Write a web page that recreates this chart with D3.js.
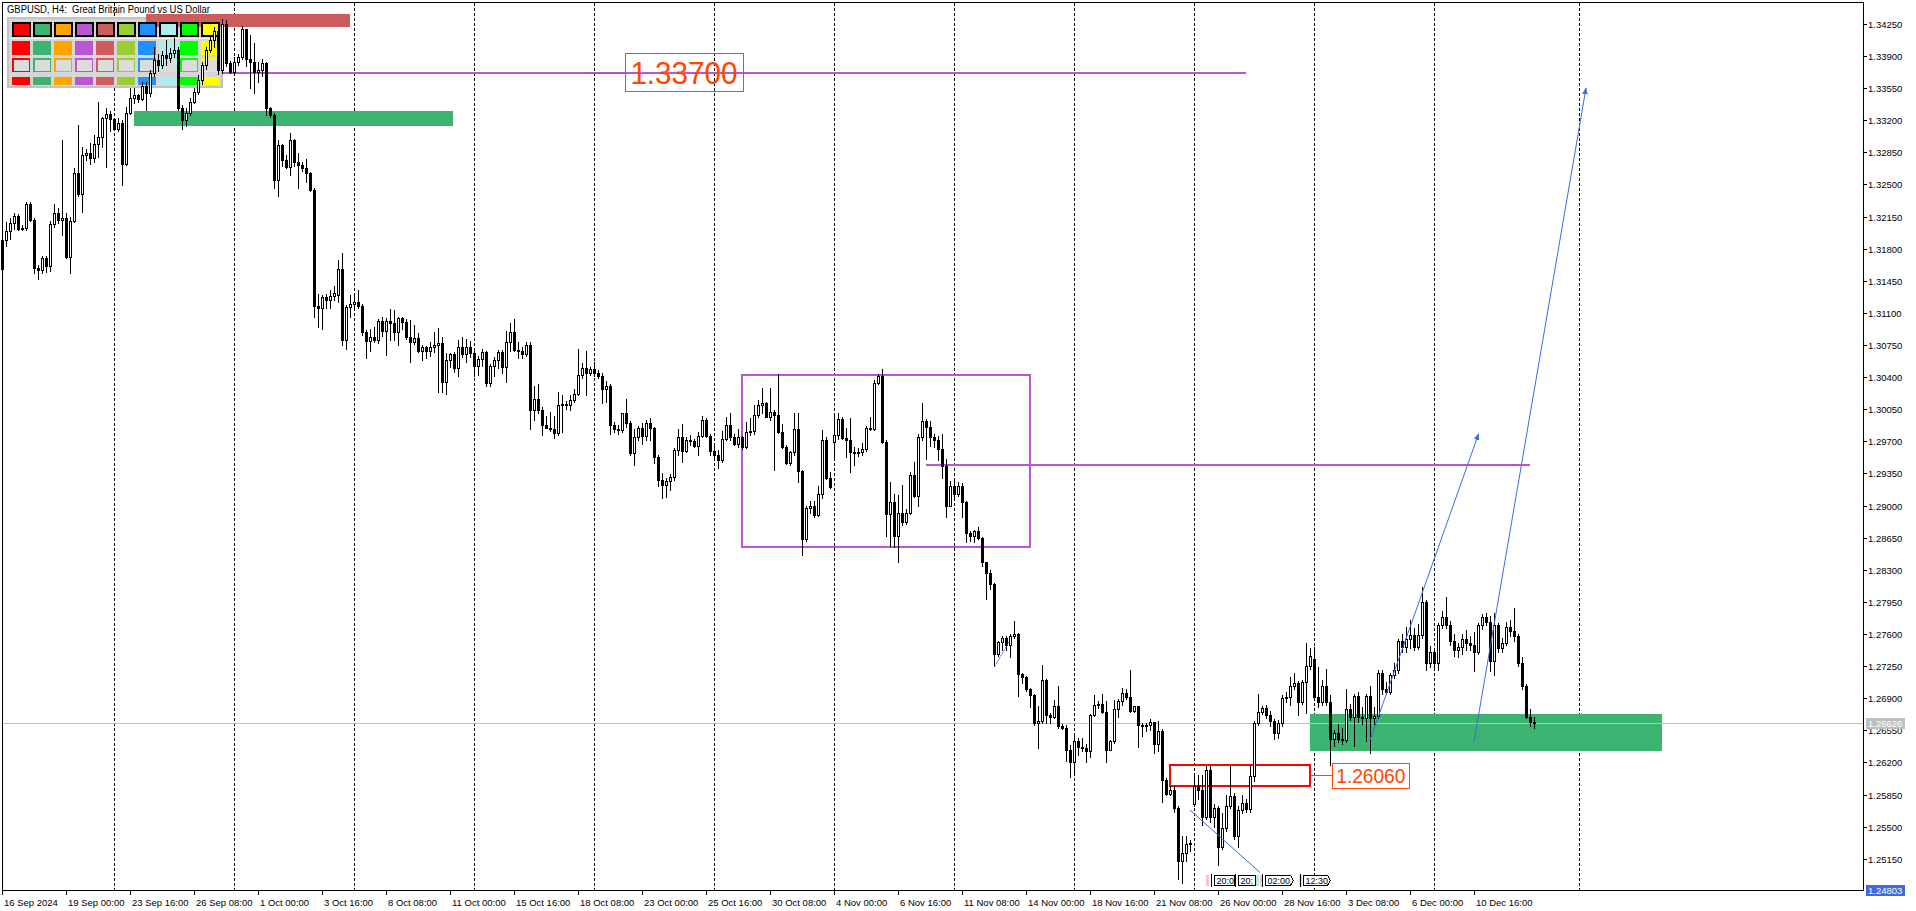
<!DOCTYPE html>
<html><head><meta charset="utf-8">
<script src="https://cdn.jsdelivr.net/npm/d3@7"></script>
<style>html,body{margin:0;padding:0;background:#fff;overflow:hidden}svg{display:block}</style>
</head><body>
<svg id="c" width="1916" height="911"></svg>
<script>
const openP = [
1.3158,1.3190,1.3199,1.3208,1.3216,1.3202,1.3203,1.3229,1.3211,1.3159,
1.3157,1.3170,1.3161,1.3207,1.3219,1.3211,1.3213,1.3171,1.3210,1.3263,
1.3240,1.3282,1.3284,1.3279,1.3294,1.3302,1.3322,1.3327,1.3321,1.3311,
1.3317,1.3272,1.3328,1.3344,1.3348,1.3343,1.3357,1.3350,1.3372,1.3386,
1.3380,1.3391,1.3388,1.3393,1.3397,1.3333,1.3320,1.3328,1.3340,1.3351,
1.3364,1.3380,1.3397,1.3408,1.3417,1.3375,1.3425,1.3382,1.3373,1.3384,
1.3389,1.3419,1.3387,1.3383,1.3373,1.3375,1.3382,1.3333,1.3326,1.3255,
1.3293,1.3277,1.3269,1.3298,1.3274,1.3271,1.3268,1.3262,1.3244,1.3117,
1.3115,1.3127,1.3124,1.3128,1.3130,1.3158,1.3080,1.3116,1.3120,1.3122,
1.3118,1.3089,1.3079,1.3084,1.3081,1.3101,1.3090,1.3101,1.3099,1.3089,
1.3105,1.3100,1.3084,1.3078,1.3083,1.3069,1.3073,1.3069,1.3073,1.3075,
1.3077,1.3035,1.3059,1.3065,1.3050,1.3073,1.3065,1.3073,1.3066,1.3052,
1.3060,1.3067,1.3034,1.3052,1.3059,1.3067,1.3051,1.3078,1.3089,1.3070,
1.3069,1.3065,1.3075,1.3004,1.3016,1.3004,1.2988,1.2985,1.2983,1.2979,
1.3010,1.3011,1.3010,1.3015,1.3022,1.3042,1.3050,1.3044,1.3049,1.3044,
1.3041,1.3027,1.3030,1.2988,1.2983,1.2982,1.3001,1.2990,1.2957,1.2975,
1.2985,1.2976,1.2990,1.2984,1.2953,1.2928,1.2922,1.2927,1.2931,1.2961,
1.2975,1.2960,1.2972,1.2970,1.2965,1.2976,1.2993,1.2976,1.2959,1.2955,
1.2950,1.2973,1.2988,1.2975,1.2967,1.2975,1.2964,1.2980,1.2981,1.2999,
1.3010,1.3012,1.2997,1.3002,1.2999,1.2980,1.2964,1.2946,1.2958,1.2983,
1.2938,1.2863,1.2897,1.2900,1.2890,1.2913,1.2971,1.2930,1.2969,1.2977,
1.2994,1.2974,1.2971,1.2958,1.2957,1.2958,1.2962,1.2985,1.2983,1.3034,
1.3041,1.2969,1.2891,1.2904,1.2867,1.2892,1.2882,1.2892,1.2933,1.2910,
1.2975,1.2992,1.2986,1.2975,1.2971,1.2962,1.2943,1.2899,1.2921,1.2913,
1.2921,1.2904,1.2870,1.2867,1.2872,1.2865,1.2838,1.2827,1.2815,1.2738,
1.2751,1.2756,1.2748,1.2758,1.2760,1.2716,1.2713,1.2700,1.2694,1.2663,
1.2665,1.2710,1.2672,1.2670,1.2682,1.2660,1.2657,1.2634,1.2620,1.2643,
1.2637,1.2636,1.2632,1.2672,1.2683,1.2684,1.2675,1.2634,1.2643,1.2678,
1.2687,1.2696,1.2691,1.2676,1.2681,1.2661,1.2660,1.2661,1.2664,1.2640,
1.2654,1.2601,1.2586,1.2590,1.2570,1.2512,1.2521,1.2531,1.2575,1.2594,
1.2590,1.2560,1.2612,1.2560,1.2570,1.2528,1.2548,1.2572,1.2583,1.2540,
1.2568,1.2576,1.2569,1.2605,1.2663,1.2675,1.2679,1.2672,1.2665,1.2652,
1.2663,1.2690,1.2691,1.2703,1.2707,1.2686,1.2708,1.2725,1.2733,1.2691,
1.2686,1.2703,1.2686,1.2645,1.2652,1.2645,1.2644,1.2678,1.2670,1.2692,
1.2670,1.2668,1.2692,1.2668,1.2671,1.2717,1.2700,1.2697,1.2715,1.2721,
1.2752,1.2746,1.2755,1.2759,1.2746,1.2759,1.2795,1.2728,1.2740,1.2728,
1.2770,1.2779,1.2770,1.2752,1.2742,1.2746,1.2755,1.2750,1.2748,1.2740,
1.2770,1.2778,1.2773,1.2730,1.2770,1.2745,1.2750,1.2768,1.2763,1.2758,
1.2728,1.2703,1.2670,1.2664];
const highP = [
1.3193,1.3209,1.3213,1.3219,1.3218,1.3206,1.3231,1.3231,1.3213,1.3162,
1.3172,1.3172,1.3210,1.3229,1.3224,1.3299,1.3219,1.3215,1.3268,1.3315,
1.3291,1.3289,1.3295,1.3304,1.3340,1.3324,1.3333,1.3330,1.3322,1.3322,
1.3320,1.3335,1.3355,1.3355,1.3349,1.3362,1.3362,1.3375,1.3400,1.3392,
1.3396,1.3407,1.3399,1.3410,1.3400,1.3337,1.3333,1.3344,1.3355,1.3369,
1.3384,1.3400,1.3412,1.3422,1.3425,1.3430,1.3429,1.3385,1.3389,1.3392,
1.3423,1.3420,1.3413,1.3404,1.3384,1.3387,1.3383,1.3334,1.3328,1.3299,
1.3294,1.3282,1.3306,1.3300,1.3284,1.3275,1.3278,1.3264,1.3246,1.3131,
1.3130,1.3131,1.3135,1.3139,1.3168,1.3175,1.3119,1.3129,1.3130,1.3135,
1.3120,1.3091,1.3093,1.3095,1.3103,1.3106,1.3104,1.3114,1.3113,1.3106,
1.3106,1.3103,1.3102,1.3097,1.3088,1.3075,1.3074,1.3078,1.3089,1.3094,
1.3084,1.3066,1.3066,1.3067,1.3081,1.3084,1.3082,1.3079,1.3068,1.3063,
1.3071,1.3069,1.3054,1.3062,1.3070,1.3070,1.3090,1.3099,1.3103,1.3078,
1.3073,1.3078,1.3078,1.3030,1.3033,1.3007,1.2998,1.3002,1.2998,1.3024,
1.3020,1.3014,1.3020,1.3027,1.3071,1.3055,1.3068,1.3051,1.3057,1.3048,
1.3045,1.3036,1.3033,1.2991,1.2988,1.3001,1.3016,1.2992,1.2983,1.2987,
1.2990,1.2993,1.2995,1.2986,1.2955,1.2935,1.2930,1.2934,1.2963,1.2983,
1.2989,1.2975,1.2977,1.2973,1.2980,1.2998,1.2995,1.2978,1.2966,1.2961,
1.2981,1.2997,1.3001,1.2978,1.2983,1.2976,1.2991,1.2995,1.3010,1.3015,
1.3028,1.3013,1.3028,1.3004,1.3043,1.2989,1.2966,1.2960,1.3001,1.3001,
1.2939,1.2900,1.2905,1.2905,1.2921,1.2982,1.2975,1.2937,1.3001,1.3001,
1.2997,1.2984,1.2995,1.2964,1.2963,1.2968,1.2987,1.2997,1.3037,1.3043,
1.3049,1.2972,1.2926,1.2913,1.2912,1.2922,1.2896,1.2937,1.2948,1.2978,
1.3012,1.2994,1.2992,1.2978,1.2976,1.2978,1.2951,1.2927,1.2927,1.2926,
1.2925,1.2905,1.2872,1.2873,1.2877,1.2866,1.2839,1.2830,1.2816,1.2752,
1.2758,1.2758,1.2760,1.2774,1.2761,1.2718,1.2714,1.2701,1.2695,1.2682,
1.2726,1.2711,1.2674,1.2688,1.2703,1.2662,1.2661,1.2639,1.2651,1.2647,
1.2647,1.2640,1.2673,1.2694,1.2687,1.2695,1.2687,1.2644,1.2688,1.2689,
1.2701,1.2700,1.2721,1.2682,1.2682,1.2663,1.2663,1.2667,1.2664,1.2665,
1.2656,1.2603,1.2594,1.2594,1.2572,1.2540,1.2540,1.2535,1.2607,1.2606,
1.2606,1.2616,1.2616,1.2575,1.2572,1.2565,1.2584,1.2616,1.2587,1.2572,
1.2585,1.2580,1.2617,1.2665,1.2695,1.2682,1.2683,1.2676,1.2667,1.2666,
1.2693,1.2697,1.2713,1.2717,1.2709,1.2710,1.2750,1.2745,1.2746,1.2724,
1.2710,1.2722,1.2693,1.2655,1.2662,1.2657,1.2700,1.2684,1.2695,1.2697,
1.2680,1.2695,1.2703,1.2680,1.2721,1.2721,1.2708,1.2717,1.2728,1.2754,
1.2760,1.2768,1.2775,1.2766,1.2771,1.2811,1.2797,1.2747,1.2745,1.2772,
1.2785,1.2800,1.2774,1.2760,1.2750,1.2760,1.2764,1.2758,1.2762,1.2772,
1.2782,1.2783,1.2780,1.2783,1.2772,1.2756,1.2773,1.2775,1.2788,1.2760,
1.2735,1.2705,1.2678,1.2670];
const lowP = [
1.3154,1.3183,1.3191,1.3201,1.3200,1.3200,1.3200,1.3210,1.3153,1.3147,
1.3153,1.3155,1.3156,1.3204,1.3208,1.3195,1.3170,1.3154,1.3209,1.3237,
1.3220,1.3277,1.3272,1.3274,1.3280,1.3291,1.3269,1.3308,1.3310,1.3308,
1.3249,1.3271,1.3327,1.3339,1.3340,1.3342,1.3331,1.3346,1.3368,1.3374,
1.3377,1.3380,1.3383,1.3389,1.3331,1.3311,1.3314,1.3326,1.3339,1.3349,
1.3360,1.3376,1.3394,1.3400,1.3370,1.3372,1.3379,1.3372,1.3371,1.3380,
1.3387,1.3379,1.3355,1.3350,1.3362,1.3368,1.3326,1.3324,1.3246,1.3237,
1.3270,1.3268,1.3260,1.3270,1.3246,1.3265,1.3253,1.3243,1.3106,1.3095,
1.3093,1.3115,1.3115,1.3124,1.3122,1.3075,1.3071,1.3106,1.3113,1.3115,
1.3086,1.3061,1.3068,1.3078,1.3077,1.3085,1.3064,1.3081,1.3081,1.3075,
1.3093,1.3082,1.3056,1.3076,1.3067,1.3059,1.3061,1.3063,1.3067,1.3024,
1.3024,1.3022,1.3051,1.3046,1.3041,1.3062,1.3057,1.3062,1.3041,1.3042,
1.3052,1.3030,1.3030,1.3041,1.3050,1.3044,1.3035,1.3068,1.3068,1.3061,
1.3061,1.3063,1.2983,1.2993,1.3001,1.2977,1.2984,1.2981,1.2974,1.2977,
1.2980,1.3005,1.3004,1.3013,1.3021,1.3039,1.3021,1.3042,1.3041,1.3039,
1.3012,1.3013,1.2978,1.2980,1.2978,1.2980,1.2986,1.2955,1.2944,1.2972,
1.2967,1.2971,1.2972,1.2946,1.2921,1.2908,1.2909,1.2917,1.2928,1.2955,
1.2948,1.2958,1.2966,1.2964,1.2955,1.2975,1.2975,1.2955,1.2950,1.2941,
1.2948,1.2972,1.2972,1.2966,1.2964,1.2962,1.2963,1.2977,1.2978,1.2997,
1.3001,1.2996,1.2993,1.2939,1.2979,1.2963,1.2945,1.2944,1.2955,1.2926,
1.2846,1.2861,1.2892,1.2888,1.2889,1.2908,1.2929,1.2919,1.2950,1.2973,
1.2973,1.2953,1.2937,1.2944,1.2954,1.2955,1.2959,1.2982,1.2982,1.3033,
1.2968,1.2867,1.2856,1.2855,1.2838,1.2879,1.2880,1.2891,1.2909,1.2900,
1.2972,1.2951,1.2965,1.2964,1.2950,1.2930,1.2887,1.2899,1.2907,1.2910,
1.2887,1.2860,1.2861,1.2860,1.2863,1.2834,1.2798,1.2809,1.2725,1.2736,
1.2742,1.2743,1.2735,1.2756,1.2692,1.2707,1.2698,1.2680,1.2661,1.2636,
1.2663,1.2663,1.2663,1.2668,1.2658,1.2656,1.2622,1.2604,1.2610,1.2628,
1.2632,1.2620,1.2626,1.2671,1.2679,1.2674,1.2620,1.2633,1.2641,1.2669,
1.2683,1.2689,1.2675,1.2675,1.2637,1.2649,1.2654,1.2655,1.2630,1.2632,
1.2577,1.2585,1.2585,1.2566,1.2493,1.2488,1.2512,1.2523,1.2572,1.2580,
1.2552,1.2558,1.2555,1.2550,1.2508,1.2526,1.2545,1.2570,1.2536,1.2528,
1.2565,1.2566,1.2566,1.2600,1.2661,1.2673,1.2668,1.2660,1.2645,1.2647,
1.2660,1.2686,1.2683,1.2700,1.2672,1.2684,1.2674,1.2722,1.2688,1.2680,
1.2683,1.2683,1.2617,1.2638,1.2642,1.2640,1.2642,1.2666,1.2638,1.2664,
1.2662,1.2643,1.2630,1.2662,1.2668,1.2695,1.2695,1.2695,1.2712,1.2718,
1.2740,1.2740,1.2745,1.2742,1.2744,1.2756,1.2721,1.2724,1.2722,1.2721,
1.2766,1.2767,1.2748,1.2736,1.2735,1.2738,1.2742,1.2743,1.2720,1.2738,
1.2765,1.2770,1.2720,1.2715,1.2740,1.2740,1.2748,1.2758,1.2752,1.2725,
1.2700,1.2668,1.2660,1.2657];
const closeP = [
1.3190,1.3199,1.3208,1.3216,1.3202,1.3203,1.3229,1.3211,1.3159,1.3157,
1.3170,1.3161,1.3207,1.3219,1.3211,1.3213,1.3171,1.3210,1.3263,1.3240,
1.3282,1.3284,1.3279,1.3294,1.3302,1.3322,1.3327,1.3321,1.3311,1.3317,
1.3272,1.3328,1.3344,1.3348,1.3343,1.3357,1.3350,1.3372,1.3386,1.3380,
1.3391,1.3388,1.3393,1.3397,1.3333,1.3320,1.3328,1.3340,1.3351,1.3364,
1.3380,1.3397,1.3408,1.3417,1.3375,1.3425,1.3382,1.3373,1.3384,1.3389,
1.3419,1.3387,1.3383,1.3373,1.3375,1.3382,1.3333,1.3326,1.3255,1.3293,
1.3277,1.3269,1.3298,1.3274,1.3271,1.3268,1.3262,1.3244,1.3117,1.3115,
1.3127,1.3124,1.3128,1.3132,1.3158,1.3080,1.3116,1.3120,1.3122,1.3118,
1.3089,1.3079,1.3084,1.3081,1.3101,1.3090,1.3101,1.3099,1.3089,1.3105,
1.3100,1.3084,1.3078,1.3083,1.3069,1.3073,1.3069,1.3073,1.3075,1.3077,
1.3035,1.3059,1.3065,1.3050,1.3073,1.3065,1.3073,1.3066,1.3052,1.3060,
1.3067,1.3034,1.3052,1.3059,1.3067,1.3051,1.3078,1.3089,1.3070,1.3069,
1.3065,1.3075,1.3004,1.3016,1.3004,1.2988,1.2985,1.2983,1.2979,1.3010,
1.3011,1.3010,1.3015,1.3022,1.3042,1.3050,1.3044,1.3049,1.3044,1.3041,
1.3027,1.3030,1.2988,1.2983,1.2982,1.3001,1.2990,1.2957,1.2975,1.2985,
1.2976,1.2990,1.2984,1.2953,1.2928,1.2922,1.2927,1.2931,1.2961,1.2975,
1.2960,1.2972,1.2970,1.2965,1.2976,1.2993,1.2976,1.2959,1.2955,1.2950,
1.2973,1.2988,1.2975,1.2967,1.2975,1.2964,1.2980,1.2981,1.2999,1.3010,
1.3012,1.2997,1.3002,1.2999,1.2980,1.2964,1.2946,1.2958,1.2983,1.2938,
1.2863,1.2897,1.2900,1.2890,1.2913,1.2971,1.2930,1.2920,1.2977,1.2994,
1.2974,1.2971,1.2958,1.2957,1.2958,1.2962,1.2985,1.2983,1.3034,1.3041,
1.2969,1.2891,1.2904,1.2867,1.2892,1.2882,1.2892,1.2933,1.2910,1.2975,
1.2992,1.2986,1.2975,1.2971,1.2962,1.2943,1.2899,1.2921,1.2913,1.2921,
1.2904,1.2870,1.2867,1.2872,1.2865,1.2838,1.2827,1.2815,1.2738,1.2751,
1.2756,1.2748,1.2758,1.2760,1.2716,1.2713,1.2700,1.2694,1.2663,1.2665,
1.2710,1.2672,1.2670,1.2682,1.2660,1.2657,1.2634,1.2620,1.2643,1.2637,
1.2636,1.2632,1.2672,1.2683,1.2684,1.2675,1.2634,1.2643,1.2678,1.2687,
1.2696,1.2691,1.2676,1.2681,1.2661,1.2660,1.2661,1.2664,1.2640,1.2654,
1.2601,1.2586,1.2590,1.2570,1.2512,1.2521,1.2531,1.2532,1.2594,1.2590,
1.2560,1.2612,1.2560,1.2570,1.2528,1.2548,1.2572,1.2583,1.2540,1.2568,
1.2576,1.2569,1.2605,1.2663,1.2675,1.2679,1.2672,1.2665,1.2652,1.2663,
1.2690,1.2691,1.2703,1.2707,1.2686,1.2708,1.2725,1.2736,1.2691,1.2686,
1.2703,1.2686,1.2645,1.2652,1.2645,1.2644,1.2678,1.2670,1.2692,1.2670,
1.2668,1.2692,1.2668,1.2671,1.2717,1.2700,1.2697,1.2715,1.2721,1.2752,
1.2746,1.2755,1.2759,1.2746,1.2759,1.2795,1.2728,1.2740,1.2728,1.2770,
1.2779,1.2770,1.2752,1.2742,1.2746,1.2755,1.2750,1.2748,1.2740,1.2770,
1.2778,1.2773,1.2730,1.2770,1.2745,1.2750,1.2768,1.2763,1.2758,1.2728,
1.2703,1.2670,1.2664,1.26626];

const yTicks = [1.25150,1.25500,1.25850,1.26200,1.26550,1.26900,1.27250,1.27600,1.27950,1.28300,1.28650,1.29000,1.29350,1.29700,1.30050,1.30400,1.30750,1.31100,1.31450,1.31800,1.32150,1.32500,1.32850,1.33200,1.33550,1.33900,1.34250];
const xLabelBars = [0,16,32,48,64,80,96,112,128,144,160,176,192,208,224,240,256,272,288,304,320,336,352,368];
const xLabels = ["16 Sep 2024","19 Sep 00:00","23 Sep 16:00","26 Sep 08:00","1 Oct 00:00","3 Oct 16:00","8 Oct 08:00","11 Oct 00:00","15 Oct 16:00","18 Oct 08:00","23 Oct 00:00","25 Oct 16:00","30 Oct 08:00","4 Nov 00:00","6 Nov 16:00","11 Nov 08:00","14 Nov 00:00","18 Nov 16:00","21 Nov 08:00","26 Nov 00:00","28 Nov 16:00","3 Dec 08:00","6 Dec 00:00","10 Dec 16:00"];
const gridBars = [28,58,88,118,148,178,208,238,268,298,328,358,394.25];
const paletteColors = ["#ff0000","#3cb371","#ffa500","#ba55d3","#cd5c5c","#9acd32","#1e90ff","#afeeee","#00ff00","#ffff00"];
const titleText = "GBPUSD, H4:  Great Britain Pound vs US Dollar";
const lastPrice = 1.26626;
const minPriceLabel = 1.24803;
// chart objects (bar index / price)
const redZone = [36, 87, 1.3436, 1.3422];
const greenZone1 = [33, 112.75, 1.3330, 1.3314];
const greenZone2 = [327, 415, 1.2673, 1.2632];
const purpleLine1 = [36, 311, 1.3372];
const purpleRect = [185, 257, 1.30423, 1.28548];
const purpleLine2 = [231, 382, 1.29445];
const redRect = [292, 327, 1.26171, 1.25942];
const label1 = ["1.33700", 155.7, 185.25, 1.3372];
const label2 = ["1.26060", 332.6, 351.8, 1.2606];
const arrows = [[342, 1.26444, 369.15, 1.29782], [368, 1.26425, 396, 1.33552]];
const blueSegs = [[297, 1.25681, 314.5, 1.25000], [248.1, 1.27243, 251.8, 1.27516]];
const timeBoxes = [["20:0", 303, 308], ["20:", 309, 313.3], ["02:00", 315.75, 322.8], ["12:30", 325.25, 332]];
const timeTicks = [[301.1, "#ffc0cb"], [313.5, "#afeeee"], [314.5, "#ffc0cb"], [324.25, "#afeeee"]];

const x = d3.scaleLinear().domain([0, 383]).range([2, 1534]);
const y = d3.scaleLinear().domain([1.24809, 1.34484]).range([890, 2.5]);
const R = v => Math.round(v);
const svg = d3.select("#c");
const font = "'Liberation Sans', Arial, sans-serif";
svg.append("rect").attr("width",1916).attr("height",911).attr("fill","#fff");
const g = svg.append("g").attr("shape-rendering","crispEdges");

// vertical grid
g.selectAll("line.grid").data(gridBars).enter().append("line")
  .attr("x1", d=>R(x(d))+0.5).attr("x2", d=>R(x(d))+0.5).attr("y1",3).attr("y2",890)
  .attr("stroke","#000").attr("stroke-width",1).attr("stroke-dasharray","3,2");

// zones
function zone(z, color){
  g.append("rect").attr("x",R(x(z[0]))).attr("y",R(y(z[2])))
   .attr("width",R(x(z[1]))-R(x(z[0]))).attr("height",R(y(z[3]))-R(y(z[2]))).attr("fill",color);
}
zone(greenZone1, "#3cb371");
zone(greenZone2, "#3cb371");

// last price line
g.append("line").attr("x1",2).attr("x2",1863).attr("y1",R(y(lastPrice))+0.5).attr("y2",R(y(lastPrice))+0.5)
  .attr("stroke","#c0c0c0").attr("stroke-width",1);

// purple line 1 (under panel)
g.append("line").attr("x1",x(purpleLine1[0])).attr("x2",x(purpleLine1[1])).attr("y1",R(y(purpleLine1[2]))).attr("y2",R(y(purpleLine1[2])))
  .attr("stroke","#ba55d3").attr("stroke-width",2);

// panel
g.append("rect").attr("x",8).attr("y",18).attr("width",214).attr("height",69).attr("fill","#d6d6d6").attr("stroke","#c2c2c2").attr("stroke-width",2);
zone(redZone, "#cd5c5c");
g.append("line").attr("x1",9).attr("x2",221).attr("y1",38.5).attr("y2",38.5).attr("stroke","#f2f2f2").attr("stroke-width",1);
paletteColors.forEach((c,k)=>{
  const px = 12 + 21*k;
  g.append("rect").attr("x",px+0.5).attr("y",22.5).attr("width",17).attr("height",13).attr("fill",c).attr("stroke","#000").attr("stroke-width",2);
  g.append("rect").attr("x",px).attr("y",40.5).attr("width",18).attr("height",14.5).attr("fill",c);
  g.append("rect").attr("x",px+0.75).attr("y",58.75).attr("width",16.5).attr("height",12.5).attr("fill","#dcdcdc").attr("stroke",c).attr("stroke-width",1.5);
  g.append("rect").attr("x",px).attr("y",77).attr("width",18).attr("height",8).attr("fill",c);
});

// purple rect and line 2, red rect
g.append("rect").attr("x",x(purpleRect[0])).attr("y",y(purpleRect[2])).attr("width",x(purpleRect[1])-x(purpleRect[0]))
  .attr("height",y(purpleRect[3])-y(purpleRect[2])).attr("fill","none").attr("stroke","#ba55d3").attr("stroke-width",2);
g.append("line").attr("x1",x(purpleLine2[0])).attr("x2",x(purpleLine2[1])).attr("y1",R(y(purpleLine2[2]))).attr("y2",R(y(purpleLine2[2])))
  .attr("stroke","#ba55d3").attr("stroke-width",2);
g.append("rect").attr("x",x(redRect[0])).attr("y",y(redRect[2])).attr("width",x(redRect[1])-x(redRect[0]))
  .attr("height",y(redRect[3])-y(redRect[2])).attr("fill","none").attr("stroke","#ff0000").attr("stroke-width",2);

// candles
const cg = g.append("g");
for (let i=0;i<closeP.length;i++){
  const o=openP[i], c=closeP[i];
  const h=Math.max(highP[i],o,c), l=Math.min(lowP[i],o,c);
  const cx=R(x(i)), yo=R(y(o)), yc=R(y(c)), yh=R(y(h)), yl=R(y(l));
  cg.append("rect").attr("x",cx).attr("y",yh).attr("width",1).attr("height",yl-yh+1).attr("fill","#000");
  if (c>=o){
    cg.append("rect").attr("x",cx-1).attr("y",yc).attr("width",3).attr("height",yo-yc+1).attr("fill","#000");
    if (yo-yc-1>0) cg.append("rect").attr("x",cx).attr("y",yc+1).attr("width",1).attr("height",yo-yc-1).attr("fill","#fff");
  } else {
    cg.append("rect").attr("x",cx-1).attr("y",yo).attr("width",3).attr("height",yc-yo+1).attr("fill","#000");
  }
}

// blue arrows
const defs = svg.append("defs");
defs.append("marker").attr("id","ah").attr("viewBox","0 0 10 10").attr("refX",9).attr("refY",5)
  .attr("markerWidth",7).attr("markerHeight",7).attr("orient","auto")
  .append("path").attr("d","M0,1 L10,5 L0,9 Z").attr("fill","#4169e1");
const ag = svg.append("g");
arrows.forEach(a=>{
  ag.append("line").attr("x1",x(a[0])).attr("y1",y(a[1])).attr("x2",x(a[2])).attr("y2",y(a[3]))
    .attr("stroke","#4169e1").attr("stroke-width",1).attr("marker-end","url(#ah)");
});
ag.append("line").attr("x1",x(blueSegs[0][0])).attr("y1",y(blueSegs[0][1])).attr("x2",x(blueSegs[0][2])).attr("y2",y(blueSegs[0][3]))
  .attr("stroke","#4169e1").attr("stroke-width",1);
ag.append("line").attr("x1",x(blueSegs[1][0])).attr("y1",y(blueSegs[1][1])).attr("x2",x(blueSegs[1][2])).attr("y2",y(blueSegs[1][3]))
  .attr("stroke","#4169e1").attr("stroke-width",1).attr("stroke-dasharray","2,1");

// price labels
function priceLabel(lb, fs, connFrom, tl){
  const x0=x(lb[1]), x1=x(lb[2]), yc=y(lb[3]);
  const hgt = fs*1.2;
  svg.append("line").attr("x1",connFrom).attr("x2",x0).attr("y1",R(yc)+0.5).attr("y2",R(yc)+0.5).attr("stroke","#ff4500").attr("stroke-width",1);
  svg.append("rect").attr("x",R(x0)+0.5).attr("y",R(yc-hgt/2)+0.5).attr("width",R(x1-x0)).attr("height",R(hgt))
    .attr("fill","none").attr("stroke","#ff4500").attr("stroke-width",1);
  svg.append("text").attr("x",x0+(x1-x0)/2).attr("y",yc+fs*0.36).attr("text-anchor","middle")
    .attr("font-family",font).attr("font-size",fs).attr("fill","#ff4500")
    .attr("textLength",tl).attr("lengthAdjust","spacingAndGlyphs").text(lb[0]);
}
priceLabel(label1, 32, 590, 107);
priceLabel(label2, 20.5, x(redRect[1]), 69);

// time boxes near bottom
const tb = svg.append("g").attr("shape-rendering","crispEdges");
timeTicks.forEach(t=>{
  tb.append("rect").attr("x",R(x(t[0]))).attr("y",875).attr("width",3).attr("height",11).attr("fill",t[1]);
});
timeBoxes.forEach((t,k)=>{
  const a=R(x(t[1]))+0.5, b=R(x(t[2]))+0.5;
  const pts = k>=2 ? [[a,875.5],[b-3,875.5],[b,880.5],[b-3,885.5],[a,885.5]] : [[a,875.5],[b,875.5],[b,885.5],[a,885.5]];
  tb.append("polygon").attr("points",pts.map(p=>p.join(",")).join(" ")).attr("fill","#fff").attr("stroke","#000").attr("stroke-width",1);
  tb.append("line").attr("x1",a-3).attr("x2",a-3).attr("y1",874).attr("y2",887).attr("stroke","#000");
  tb.append("text").attr("x",a+2).attr("y",884).attr("font-family",font).attr("font-size",9).attr("fill","#000").text(t[0]);
});

// frame & axes
const ax = svg.append("g").attr("shape-rendering","crispEdges");
ax.append("rect").attr("x",2.5).attr("y",2.5).attr("width",1861).attr("height",888).attr("fill","none").attr("stroke","#000").attr("stroke-width",1);
yTicks.forEach(t=>{
  const yy=R(y(t));
  ax.append("line").attr("x1",1863).attr("x2",1867).attr("y1",yy+0.5).attr("y2",yy+0.5).attr("stroke","#000");
  ax.append("text").attr("x",1868).attr("y",yy+3.5).attr("font-family",font).attr("font-size",9.5).attr("fill","#000").text(t.toFixed(5));
});
xLabelBars.forEach((b,k)=>{
  const xx=R(x(b));
  ax.append("line").attr("x1",xx+0.5).attr("x2",xx+0.5).attr("y1",890).attr("y2",895).attr("stroke","#000");
  ax.append("text").attr("x",xx+2).attr("y",906).attr("font-family",font).attr("font-size",9.5).attr("fill","#000").text(xLabels[k]);
});
// last price tag
const ly=R(y(lastPrice));
ax.append("rect").attr("x",1866).attr("y",ly-5).attr("width",39).attr("height",11).attr("fill","#c0c0c0");
ax.append("text").attr("x",1868).attr("y",ly+4).attr("font-family",font).attr("font-size",9.5).attr("fill","#fff").text(lastPrice.toFixed(5));
ax.append("rect").attr("x",1866).attr("y",885).attr("width",39).attr("height",11).attr("fill","#4169e1");
ax.append("text").attr("x",1868).attr("y",894).attr("font-family",font).attr("font-size",9.5).attr("fill","#fff").text(minPriceLabel.toFixed(5));

// title
svg.append("text").attr("x",7).attr("y",13).attr("font-family",font).attr("font-size",10).attr("fill","#000")
  .attr("textLength",203).attr("lengthAdjust","spacingAndGlyphs").style("white-space","pre").text(titleText);
</script>
</body></html>
